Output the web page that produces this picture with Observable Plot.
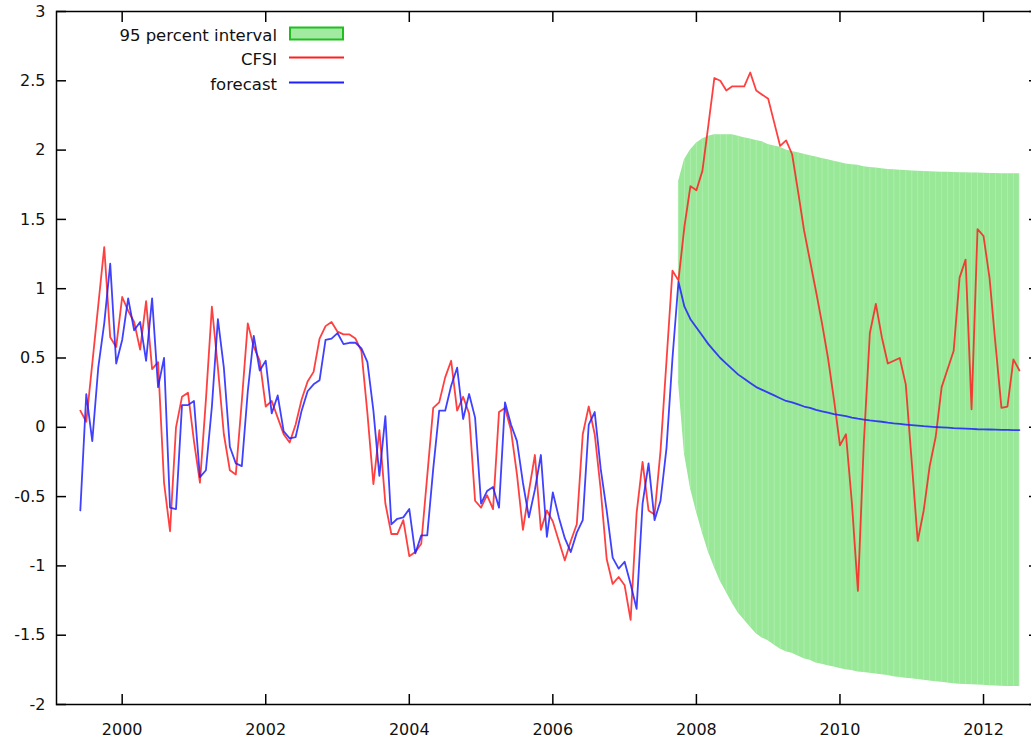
<!DOCTYPE html>
<html><head><meta charset="utf-8">
<script src="https://cdn.jsdelivr.net/npm/d3@7"></script>
<script src="https://cdn.jsdelivr.net/npm/@observablehq/plot@0.6"></script>
<style>
html,body{margin:0;padding:0;background:#fff;overflow:hidden;}
#wrap{position:relative;width:1031px;height:742px;overflow:hidden;}
#wrap svg{max-width:none !important;}
</style></head><body><div id="wrap"></div>
<script>
// monthly series, first point = June 1999
const startYear = 1999, startMonth = 5;

const cfsi = [
 0.12, 0.04, 0.46, 0.88, 1.30, 0.65, 0.58, 0.94, 0.84, 0.76,
 0.56, 0.91, 0.42, 0.47, -0.40, -0.75, 0.00, 0.22, 0.25, -0.10,
 -0.40, 0.20, 0.87, 0.43, -0.05, -0.31, -0.34, 0.19, 0.75, 0.58,
 0.48, 0.15, 0.19, 0.07, -0.05, -0.11, 0.02, 0.20, 0.33, 0.40,
 0.64, 0.73, 0.76, 0.69, 0.67, 0.67, 0.64, 0.55, 0.10, -0.41,
 -0.02, -0.55, -0.77, -0.77, -0.67, -0.93, -0.90, -0.84, -0.35, 0.14,
 0.18, 0.36, 0.48, 0.12, 0.22, 0.10, -0.53, -0.58, -0.49, -0.59,
 0.11, 0.14, -0.02, -0.34, -0.74, -0.46, -0.20, -0.74, -0.60, -0.68,
 -0.82, -0.96, -0.82, -0.70, -0.05, 0.15, -0.05, -0.45, -0.95, -1.13,
 -1.08, -1.14, -1.39, -0.62, -0.25, -0.60, -0.63, -0.17, 0.48, 1.13,
 1.06, 1.45, 1.74, 1.71, 1.85, 2.18, 2.52, 2.50, 2.43, 2.46,
 2.46, 2.46, 2.56, 2.43, 2.40, 2.37, 2.20, 2.03, 2.07, 1.97,
 1.70, 1.42, 1.20, 0.98, 0.75, 0.50, 0.20, -0.13, -0.05, -0.55,
 -1.18, -0.10, 0.68, 0.89, 0.65, 0.46, 0.48, 0.50, 0.31, -0.25,
 -0.82, -0.60, -0.28, -0.07, 0.29, 0.42, 0.55, 1.08, 1.21, 0.13,
 1.43, 1.38, 1.08, 0.60, 0.14, 0.15, 0.49, 0.41
];

const forecast = [
 -0.60, 0.24, -0.10, 0.43, 0.75, 1.18, 0.46, 0.63, 0.93, 0.70,
 0.76, 0.48, 0.93, 0.29, 0.50, -0.58, -0.59, 0.16, 0.16, 0.19,
 -0.36, -0.31, 0.15, 0.78, 0.43, -0.14, -0.26, -0.28, 0.26, 0.66,
 0.41, 0.48, 0.10, 0.23, -0.03, -0.08, -0.07, 0.12, 0.26, 0.31,
 0.34, 0.63, 0.64, 0.68, 0.60, 0.61, 0.61, 0.57, 0.47, 0.12,
 -0.35, 0.08, -0.70, -0.66, -0.65, -0.59, -0.91, -0.78, -0.78, -0.30,
 0.12, 0.12, 0.30, 0.43, 0.06, 0.24, 0.07, -0.55, -0.46, -0.43,
 -0.58, 0.18, 0.02, -0.10, -0.40, -0.65, -0.45, -0.20, -0.79, -0.47,
 -0.65, -0.80, -0.90, -0.76, -0.67, 0.02, 0.11, -0.30, -0.60, -0.94,
 -1.02, -0.97, -1.13, -1.31, -0.55, -0.26, -0.67, -0.53, -0.15, 0.50,
 1.05, 0.87, 0.78, 0.72, 0.66, 0.60, 0.55, 0.50, 0.46, 0.42,
 0.38, 0.35, 0.32, 0.29, 0.27, 0.25, 0.23, 0.21, 0.19, 0.18,
 0.165, 0.15, 0.14, 0.125, 0.115, 0.105, 0.095, 0.088, 0.08, 0.07,
 0.062, 0.056, 0.05, 0.045, 0.04, 0.033, 0.028, 0.024, 0.02, 0.016,
 0.012, 0.008, 0.005, 0.002, 0.0, -0.003, -0.006, -0.008, -0.01, -0.012,
 -0.014, -0.015, -0.016, -0.017, -0.018, -0.019, -0.02, -0.02
];

// 95 percent interval, from month index 100 (Oct 2007)
const bandStartIndex = 100;
const bandUpper = [
 1.77, 1.93, 2.00, 2.05, 2.08, 2.10, 2.11, 2.11, 2.11, 2.11,
 2.10, 2.09, 2.08, 2.07, 2.06, 2.04, 2.03, 2.02, 2.00, 1.99,
 1.98, 1.97, 1.96, 1.95, 1.94, 1.93, 1.92, 1.91, 1.90, 1.895,
 1.89, 1.88, 1.875, 1.87, 1.865, 1.86, 1.858, 1.855, 1.852, 1.85,
 1.848, 1.846, 1.844, 1.842, 1.84, 1.84, 1.838, 1.837, 1.836, 1.835,
 1.834, 1.833, 1.832, 1.831, 1.83, 1.83, 1.83, 1.83
];
const bandLower = [
 0.33, -0.19, -0.44, -0.61, -0.76, -0.90, -1.01, -1.11, -1.19, -1.27,
 -1.34, -1.39, -1.44, -1.49, -1.52, -1.54, -1.57, -1.60, -1.62, -1.63,
 -1.65, -1.67, -1.68, -1.70, -1.71, -1.72, -1.73, -1.74, -1.75, -1.755,
 -1.765, -1.77, -1.775, -1.78, -1.785, -1.79, -1.80, -1.805, -1.81, -1.815,
 -1.82, -1.825, -1.83, -1.835, -1.84, -1.845, -1.85, -1.853, -1.856, -1.858,
 -1.86, -1.862, -1.864, -1.866, -1.868, -1.87, -1.87, -1.87
];

const xTicks = [2000, 2002, 2004, 2006, 2008, 2010, 2012];
const xTickLabels = ["2000", "2002", "2004", "2006", "2008", "2010", "2012"];
const yTicks = [-2, -1.5, -1, -0.5, 0, 0.5, 1, 1.5, 2, 2.5, 3];
const yTickLabels = ["-2", "-1.5", "-1", "-0.5", "0", "0.5", "1", "1.5", "2", "2.5", "3"];
const legendLabels = ["95 percent interval", "CFSI", "forecast"];

const C_RED = "#ff1f1f", C_BLUE = "#1f1fff", C_BAND = "#98e898", C_BAND_EDGE = "#1fbf1f";

const monthT = i => startYear + (startMonth + i) / 12;
const cfsiData = cfsi.map((v, i) => ({t: monthT(i), v}));
const fcData = forecast.map((v, i) => ({t: monthT(i), v}));
const bandData = bandUpper.map((hi, j) => ({t: monthT(bandStartIndex + j), hi, lo: bandLower[j]}));

const xFmt = d => xTickLabels[xTicks.indexOf(d)];
const yFmt = d => yTickLabels[yTicks.indexOf(d)];
const blank = () => "";

const chart = Plot.plot({
  width: 1040, height: 742,
  marginLeft: 56, marginRight: 2, marginTop: 11, marginBottom: 38,
  style: {fontFamily: "DejaVu Sans", fontSize: "16px", color: "#111", background: "white", overflow: "visible"},
  x: {domain: [1999.085, 2012.766]},
  y: {domain: [-2, 3]},
  marks: [
    Plot.areaY(bandData, {x: "t", y1: "lo", y2: "hi", fill: C_BAND}),
    Plot.ruleX(bandData, {x: "t", y1: "lo", y2: "hi", stroke: "#c4f3c4", strokeWidth: 0.8, strokeOpacity: 0.6}),
    Plot.line(cfsiData, {x: "t", y: "v", stroke: C_RED, strokeWidth: 1.8, strokeOpacity: 0.85}),
    Plot.line(fcData, {x: "t", y: "v", stroke: C_BLUE, strokeWidth: 1.8, strokeOpacity: 0.85}),
    Plot.frame({stroke: "#000", strokeWidth: 1.5}),
    Plot.axisX(xTicks, {anchor: "bottom", tickSize: -10, tickFormat: blank, label: null, stroke: "#000", strokeWidth: 1.5}),
    Plot.axisX(xTicks, {anchor: "top", tickSize: -10, tickFormat: blank, label: null, stroke: "#000", strokeWidth: 1.5}),
    Plot.axisX(xTicks, {anchor: "bottom", tickSize: 0, tickPadding: 19, tickFormat: xFmt, label: null}),
    Plot.axisY(yTicks, {anchor: "left", tickSize: -10, tickFormat: blank, label: null, stroke: "#000", strokeWidth: 1.5}),
    Plot.axisY(yTicks, {anchor: "right", tickSize: -10, tickFormat: blank, label: null, stroke: "#000", strokeWidth: 1.5}),
    Plot.axisY(yTicks, {anchor: "left", tickSize: 0, tickPadding: 11, tickFormat: yFmt, label: null})
  ]
});
chart.style.maxWidth = "none";
document.getElementById("wrap").appendChild(chart);

// legend (inside plot, top-left)
const leg = d3.select("#wrap").append("svg")
  .attr("width", 400).attr("height", 110)
  .style("position", "absolute").style("left", "0px").style("top", "0px")
  .style("font-family", "DejaVu Sans").style("font-size", "16.5px");
const rowY = [33.5, 57.5, 82.5];
legendLabels.forEach((lab, k) => {
  leg.append("text").attr("x", 277).attr("y", rowY[k] + 7.5)
    .attr("text-anchor", "end").attr("fill", "#111").text(lab);
});
leg.append("rect").attr("x", 290).attr("y", rowY[0] - 6).attr("width", 53).attr("height", 12)
  .attr("fill", "#a2eaa2").attr("stroke", C_BAND_EDGE).attr("stroke-width", 2);
leg.append("line").attr("x1", 289).attr("x2", 344).attr("y1", rowY[1]).attr("y2", rowY[1])
  .attr("stroke", C_RED).attr("stroke-width", 2);
leg.append("line").attr("x1", 289).attr("x2", 344).attr("y1", rowY[2]).attr("y2", rowY[2])
  .attr("stroke", C_BLUE).attr("stroke-width", 2);
</script></body></html>
